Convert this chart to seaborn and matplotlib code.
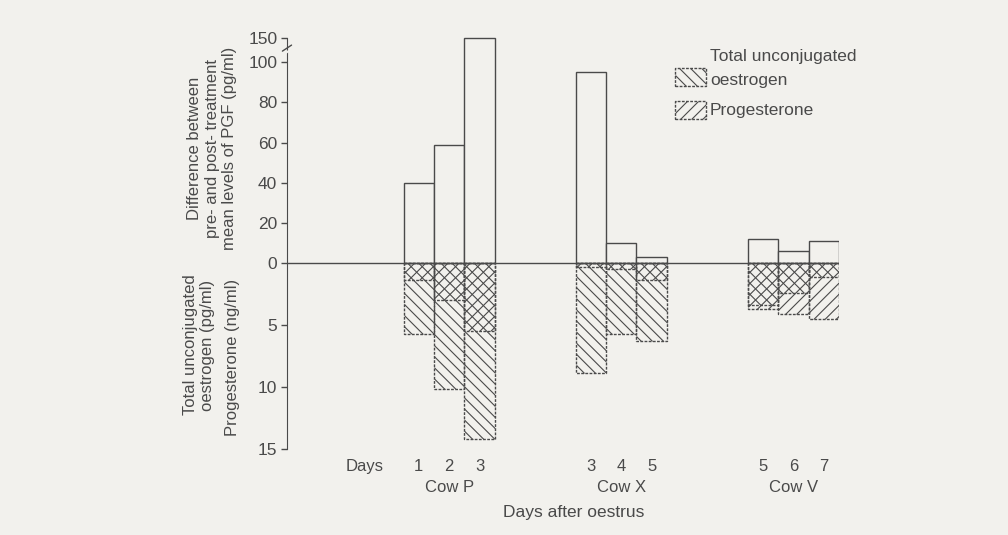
import matplotlib
matplotlib.use('Agg')
import matplotlib.pyplot as plt
from matplotlib.patches import Rectangle
import pandas as pd
import seaborn as sns

# values
cows = ['Cow P'] * 3 + ['Cow X'] * 3 + ['Cow V'] * 3
days = [1, 2, 3, 3, 4, 5, 5, 6, 7]
pgf = [40, 59, 150, 95, 10, 3, 12, 6, 11]                          # pg/ml
oestrogen = [5.7, 10.2, 14.2, 8.9, 5.7, 6.3, 3.4, 2.4, 1.1]        # pg/ml
progesterone = [1.4, 3.0, 5.5, 0.3, 0.5, 1.4, 3.7, 4.1, 4.5]       # ng/ml
cow_order = ['Cow P', 'Cow X', 'Cow V']

INK = '#4a4a4a'
BG = '#f2f1ed'


def upper_pos(v):
    # broken axis above 100
    return v if v <= 100 else 100 + (v - 100) * 0.24


def lower_pos(v):
    return -6.15 * v


group_start = {'Cow P': 0.0, 'Cow X': 5.65, 'Cow V': 11.3}
pos, seen = [], {}
for c in cows:
    k = seen.get(c, 0)
    pos.append(group_start[c] + k)
    seen[c] = k + 1

df = pd.DataFrame({'cow': cows, 'day': days, 'pos': pos,
                   'pgf': [upper_pos(v) for v in pgf],
                   'oes': [lower_pos(v) for v in oestrogen],
                   'prog': [lower_pos(v) for v in progesterone]})

sns.set_style('white')
plt.rcParams['font.family'] = ['Liberation Sans', 'DejaVu Sans']
plt.rcParams['hatch.linewidth'] = 0.8

fig = plt.figure(figsize=(10.08, 5.35), dpi=100, facecolor=BG)
ax = fig.add_axes([0.2847, 0.1551, 0.5476, 0.7963], facecolor=BG)


def bars(col, hatch, ls):
    n = len(ax.patches)
    sns.barplot(data=df, x='pos', y=col, native_scale=True, width=1,
                errorbar=None, color='white', saturation=1, ax=ax)
    for p in ax.patches[n:]:
        p.set_facecolor('none' if hatch else BG)
        p.set_edgecolor(INK)
        p.set_linewidth(1.0)
        p.set_linestyle(ls)
        if hatch:
            p.set_hatch(hatch)


bars('pgf', None, '-')
bars('oes', '\\\\\\', (0, (2, 1)))
bars('prog', '///', (0, (2, 1)))

ax.axhline(0, color=INK, lw=1.0, zorder=5)
ax.set_xlim(-4.33, 13.8)
ax.set_ylim(-94, 118)

for s in ['top', 'right', 'bottom']:
    ax.spines[s].set_visible(False)
ax.spines['left'].set_color(INK)
ax.spines['left'].set_bounds(lower_pos(15), upper_pos(150))

ytick_vals = [0, 20, 40, 60, 80, 100, 150]
low_vals = [5, 10, 15]
yt = [upper_pos(v) for v in ytick_vals] + [lower_pos(v) for v in low_vals]
yl = [str(v) for v in ytick_vals] + [str(v) for v in low_vals]
ax.set_yticks(yt)
ax.set_yticklabels(yl)
ax.tick_params(axis='y', left=True, length=4, width=1, color=INK,
               labelsize=12.5, labelcolor=INK, pad=3)

ax.set_xticks(df['pos'])
ax.set_xticklabels(df['day'])
ax.tick_params(axis='x', bottom=False, length=0, labelsize=12,
               labelcolor=INK, pad=5)
ax.set_xlabel('')
ax.set_ylabel('')

# axis break mark
ax.plot([-4.48, -4.18], [105.5, 108.5], color=INK, lw=1, clip_on=False)
ax.plot([-4.48, -4.18], [103.5, 106.5], color=BG, lw=1.5, clip_on=False, zorder=6)

# cow names under each group
for c in cow_order:
    cx = df.loc[df['cow'] == c, 'pos'].mean()
    ax.text(cx, -0.083, c, transform=ax.get_xaxis_transform(),
            ha='center', va='center', fontsize=12, color=INK)

fig.text(365 / 1008, 1 - 466 / 535, 'Days', ha='center', va='center',
         fontsize=12, color=INK)
fig.text(574 / 1008, 1 - 513 / 535, 'Days after oestrus', ha='center',
         va='center', fontsize=12.5, color=INK)

# y-axis captions
fig.text(212 / 1008, 1 - 148 / 535,
         'Difference between\npre- and post- treatment\nmean levels of PGF (pg/ml)',
         rotation=90, ha='center', va='center', ma='center',
         fontsize=12, color=INK, linespacing=1.2)
fig.text(199 / 1008, 1 - 345 / 535, 'Total unconjugated\noestrogen (pg/ml)',
         rotation=90, ha='center', va='center', ma='center',
         fontsize=12, color=INK, linespacing=1.2)
fig.text(233 / 1008, 1 - 357 / 535, 'Progesterone (ng/ml)',
         rotation=90, ha='center', va='center', fontsize=12, color=INK)

# legend
for y0, h in [(68, '\\\\\\'), (101, '///')]:
    fig.patches.append(Rectangle((675 / 1008, 1 - (y0 + 18) / 535), 31 / 1008, 18 / 535,
                                 transform=fig.transFigure, facecolor='none',
                                 edgecolor=INK, hatch=h, lw=1, ls=(0, (2, 1))))
fig.text(710 / 1008, 1 - 56 / 535, 'Total unconjugated', va='center',
         fontsize=12.5, color=INK)
fig.text(710 / 1008, 1 - 80 / 535, 'oestrogen', va='center',
         fontsize=12.5, color=INK)
fig.text(710 / 1008, 1 - 111 / 535, 'Progesterone', va='center',
         fontsize=12.5, color=INK)

fig.savefig('out.png', dpi=100, facecolor=BG)
